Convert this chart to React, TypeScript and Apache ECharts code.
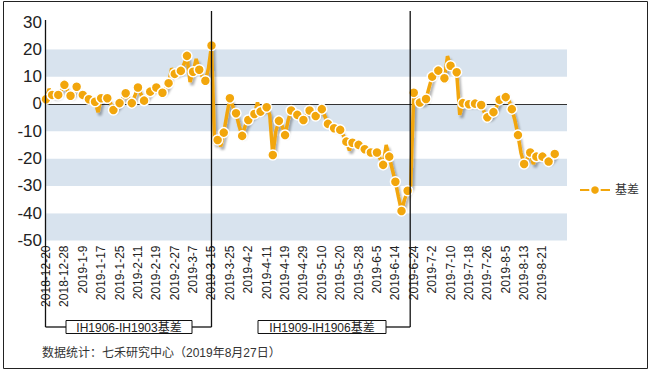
import React, { useEffect, useRef } from "react";
import * as echarts from "echarts";

const dates: string[] = (
  "2018-12-20,2018-12-21,2018-12-24,2018-12-25,2018-12-26,2018-12-27,2018-12-28," +
  "2019-1-2,2019-1-3,2019-1-4,2019-1-7,2019-1-8,2019-1-9,2019-1-10,2019-1-11,2019-1-14,2019-1-15,2019-1-16,2019-1-17,2019-1-18," +
  "2019-1-21,2019-1-22,2019-1-23,2019-1-24,2019-1-25,2019-1-28,2019-1-29,2019-1-30,2019-1-31,2019-2-1," +
  "2019-2-11,2019-2-12,2019-2-13,2019-2-14,2019-2-15,2019-2-18,2019-2-19,2019-2-20,2019-2-21,2019-2-22,2019-2-25,2019-2-26,2019-2-27,2019-2-28," +
  "2019-3-1,2019-3-4,2019-3-5,2019-3-6,2019-3-7,2019-3-8,2019-3-11,2019-3-12,2019-3-13,2019-3-14,2019-3-15,2019-3-18,2019-3-19,2019-3-20,2019-3-21,2019-3-22," +
  "2019-3-25,2019-3-26,2019-3-27,2019-3-28,2019-3-29,2019-4-1,2019-4-2,2019-4-3,2019-4-4,2019-4-8,2019-4-9,2019-4-10,2019-4-11,2019-4-12," +
  "2019-4-15,2019-4-16,2019-4-17,2019-4-18,2019-4-19,2019-4-22,2019-4-23,2019-4-24,2019-4-25,2019-4-26,2019-4-29,2019-4-30," +
  "2019-5-6,2019-5-7,2019-5-8,2019-5-9,2019-5-10,2019-5-13,2019-5-14,2019-5-15,2019-5-16,2019-5-17,2019-5-20,2019-5-21,2019-5-22,2019-5-23,2019-5-24," +
  "2019-5-27,2019-5-28,2019-5-29,2019-5-30,2019-5-31,2019-6-3,2019-6-4,2019-6-5,2019-6-6,2019-6-10,2019-6-11,2019-6-12,2019-6-13,2019-6-14," +
  "2019-6-17,2019-6-18,2019-6-19,2019-6-20,2019-6-21,2019-6-24,2019-6-25,2019-6-26,2019-6-27,2019-6-28," +
  "2019-7-1,2019-7-2,2019-7-3,2019-7-4,2019-7-5,2019-7-8,2019-7-9,2019-7-10,2019-7-11,2019-7-12,2019-7-15,2019-7-16,2019-7-17,2019-7-18,2019-7-19," +
  "2019-7-22,2019-7-23,2019-7-24,2019-7-25,2019-7-26,2019-7-29,2019-7-30,2019-7-31,2019-8-1,2019-8-2," +
  "2019-8-5,2019-8-6,2019-8-7,2019-8-8,2019-8-9,2019-8-12,2019-8-13,2019-8-14,2019-8-15,2019-8-16,2019-8-19,2019-8-20,2019-8-21,2019-8-22,2019-8-23,2019-8-26,2019-8-27"
).split(",");

// empty slots after the last date (the plot area runs on past the data)
const trailingSlots: string[] = ["", "", "", ""];

const basis: number[] = [
  1.7, 5.5, 3.3, 3.0, 3.3, 5, 7.0, 5, 3.0, 4,
  6.3, 5, 3.3, 2.5, 1.7, 1.5, 0.8, -3, 2.1, 2.3,
  2.1, 0.5, -2.2, -1, 0.3, 2, 3.9, 2, 0.3, 3,
  6.0, 3.5, 1.2, 3, 4.5, 5.5, 6.0, 5, 4.1, 5.5,
  7.6, 13, 11, 11.5, 12.1, 14.5, 17.6, 8, 11.8, 16.5,
  12.5, 10, 8.5, 13, 21.4, -14.5, -13.2, -15.5, -10.5, -4,
  2.1, -1, -3.4, -8, -11.7, -8, -5.9, -4.5, -3.7, 0.5,
  -2.8, -2, -1.2, -4, -18.7, -10, -6.2, -8, -11.4, -6,
  -2.4, -2, -4.0, -5, -5.9, -4, -2.4, -3, -4.4, -3,
  -1.9, -4.5, -7.3, -8, -8.9, -9, -9.5, -11.5, -13.8, -17,
  -14.2, -14.5, -15, -16, -16.6, -17, -17.8, -17.5, -17.8, -20,
  -22.3, -15, -19.3, -24, -28.5, -34, -39.2, -35, -31.8, -30,
  4.1, 2, 0.5, 0.5, 1.8, 6, 10, 12.5, 12.2, 10.5,
  9.4, 17.5, 14, 13, 11.6, -4, 0.3, 0, -0.1, 0,
  0.1, -0.3, -0.4, -3, -4.9, -4.5, -3, -1, 1.5, 2.5,
  2.5, 1.5, -1.9, -6, -11.4, -18, -22, -20, -17.8, -22,
  -19.3, -19.5, -19.3, -20, -21.1, -20, -18.3,
];

const seriesName = "基差";
const yTicks = { min: -50, max: 30, interval: 10 };
const rollDates: string[] = ["2019-3-15", "2019-6-21"];
const rollLabels: string[] = ["IH1906-IH1903基差", "IH1909-IH1906基差"];
const sourceNote = "数据统计：七禾研究中心（2019年8月27日）";

const ORANGE = "#F2A60C";
const BAND = "#D8E3EE";
const FONT = "'Liberation Sans', Arial, 'Noto Sans CJK SC', sans-serif";

export default function App() {
  const ref = useRef<HTMLDivElement>(null);

  useEffect(() => {
    document.body.style.margin = "0";
    const chart = echarts.init(ref.current!, null, { renderer: "svg" });
    const categories = [...dates, ...trailingSlots];
    chart.setOption({
      animation: false,
      backgroundColor: "#ffffff",
      textStyle: { fontFamily: FONT },
      grid: { left: 46, right: 83, top: 22, bottom: 130.5, containLabel: false },
      legend: {
        data: [seriesName],
        left: 574,
        top: 179,
        itemWidth: 30,
        itemHeight: 12,
        itemGap: 6,
        textStyle: { fontSize: 12, color: "#333", fontFamily: FONT },
      },
      xAxis: {
        type: "category",
        data: categories,
        boundaryGap: false,
        axisLine: { show: false },
        axisTick: { show: false },
        splitLine: { show: false },
        axisLabel: {
          rotate: 90,
          fontSize: 12,
          color: "#222",
          margin: 5,
          fontFamily: FONT,
          interval: (idx: number) => idx % 6 === 0 && idx < dates.length - 3,
        },
      },
      yAxis: {
        type: "value",
        min: yTicks.min,
        max: yTicks.max,
        interval: yTicks.interval,
        axisLine: { show: false },
        axisTick: { show: false },
        splitLine: { show: false },
        splitArea: { show: true, areaStyle: { color: [BAND, "#ffffff"] } },
        axisLabel: { fontSize: 17, color: "#222", margin: 4, fontFamily: FONT },
      },
      series: [
        {
          name: seriesName,
          type: "line",
          data: basis.map((v, i) => (i % 2 === 0 ? v : { value: v, symbol: "none" })),
          symbol: "circle",
          symbolSize: 10,
          showAllSymbol: true,
          itemStyle: { color: ORANGE, borderColor: "#ffffff", borderWidth: 1.5 },
          lineStyle: {
            color: ORANGE,
            width: 3.5,
            shadowColor: "rgba(0,0,0,0.3)",
            shadowBlur: 2,
            shadowOffsetX: 2,
            shadowOffsetY: 3,
          },
          markLine: {
            silent: true,
            symbol: "none",
            label: { show: false },
            lineStyle: { color: "#333", width: 1, type: "solid" },
            data: [{ yAxis: 0 }],
            z: 1,
          },
          z: 3,
        },
      ],
    });

    const px = (c: string) => chart.convertToPixel({ xAxisIndex: 0 }, c) as number;
    const xAxisPos = px(dates[0]) - 0.5;
    const xR1 = px(rollDates[0]);
    const xR2 = px(rollDates[1]) - 0.5;
    const yTop = chart.convertToPixel({ yAxisIndex: 0 }, yTicks.max) as number;
    const yBr = 327;
    const boxY = 320.5;
    const boxH = 13;
    const box1 = { x: 66, w: 126 };
    const box2 = { x: 258, w: 128 };
    const ls = { stroke: "#111", lineWidth: 1.3 };
    const line = (x1: number, y1: number, x2: number, y2: number) => ({
      type: "line",
      shape: { x1, y1, x2, y2 },
      style: ls,
      z: 50,
      silent: true,
    });

    chart.setOption({
      graphic: [
        {
          type: "rect",
          shape: { x: 3.5, y: 1.5, width: 644, height: 367 },
          style: { fill: "none", stroke: "#222", lineWidth: 1 },
          z: 60,
          silent: true,
        },
        line(xAxisPos, yTop - 2, xAxisPos, yBr),
        line(xR1, 11, xR1, yBr),
        line(xR2, 11, xR2, yBr),
        line(xAxisPos, yBr, box1.x, yBr),
        line(box1.x + box1.w, yBr, xR1, yBr),
        line(box2.x + box2.w, yBr, xR2, yBr),
        {
          type: "rect",
          shape: { x: box1.x, y: boxY, width: box1.w, height: boxH },
          style: { fill: "#fff", stroke: "#111", lineWidth: 1 },
          z: 50,
        },
        {
          type: "text",
          x: box1.x + box1.w / 2,
          y: boxY + boxH / 2 + 0.5,
          style: {
            text: rollLabels[0],
            fill: "#222",
            font: `12px ${FONT}`,
            align: "center",
            verticalAlign: "middle",
          },
          z: 51,
        },
        {
          type: "rect",
          shape: { x: box2.x, y: boxY, width: box2.w, height: boxH },
          style: { fill: "#fff", stroke: "#111", lineWidth: 1 },
          z: 50,
        },
        {
          type: "text",
          x: box2.x + box2.w / 2,
          y: boxY + boxH / 2 + 0.5,
          style: {
            text: rollLabels[1],
            fill: "#222",
            font: `12px ${FONT}`,
            align: "center",
            verticalAlign: "middle",
          },
          z: 51,
        },
        {
          type: "text",
          x: 42,
          y: 353,
          style: {
            text: sourceNote,
            fill: "#333",
            font: `12px ${FONT}`,
            align: "left",
            verticalAlign: "middle",
          },
          z: 51,
        },
      ],
    });

    return () => chart.dispose();
  }, []);

  return <div ref={ref} style={{ width: 650, height: 371 }} />;
}
